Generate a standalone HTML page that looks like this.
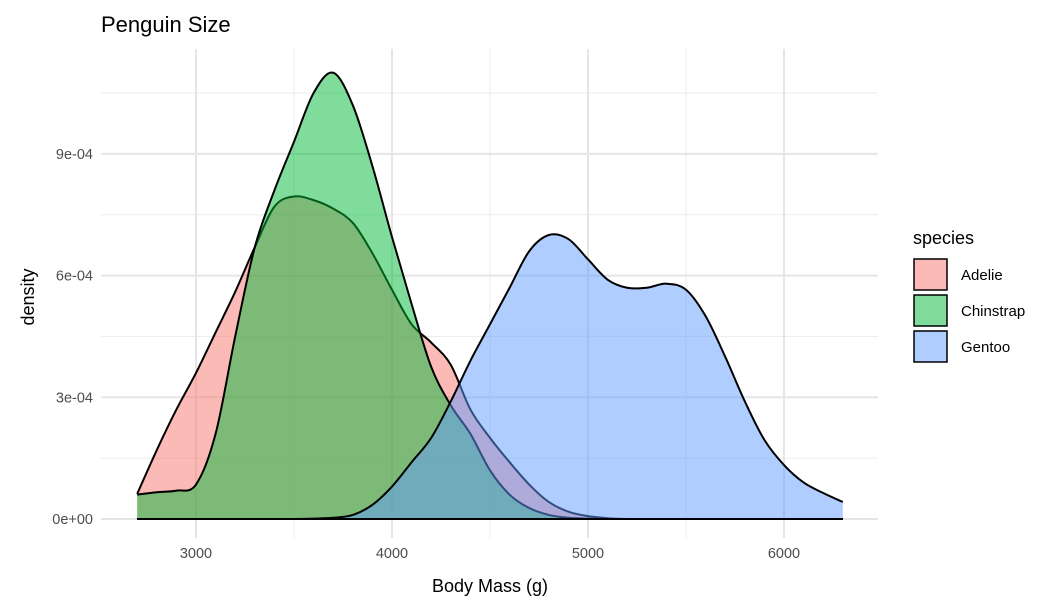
<!DOCTYPE html>
<html><head><meta charset="utf-8"><style>
body{margin:0;background:#fff;font-family:"Liberation Sans",Arial,sans-serif}
svg text{font-family:"Liberation Sans",Arial,sans-serif}
</style></head><body>
<svg id="chart" width="1064" height="608" viewBox="0 0 1064 608">
<text x="101" y="32" font-size="22" fill="#000">Penguin Size</text>
<g id="grid"></g>
<g id="areas"></g>
<g id="axes"></g>
<text x="490" y="592" font-size="18" text-anchor="middle" fill="#000">Body Mass (g)</text>
<text transform="translate(34,297) rotate(-90)" font-size="18" text-anchor="middle" fill="#000">density</text>
<g id="legend">
<text x="913" y="244" font-size="18" fill="#000">species</text>
</g>
</svg>
<script>
const xs = [2700,2800,2900,3000,3100,3200,3300,3400,3500,3600,3700,3800,3900,4000,4100,4200,4300,4400,4500,4600,4700,4800,4900,5000,5100,5200,5300,5400,5500,5600,5700,5800,5900,6000,6100,6200,6300];
const adelie = [0.62,1.7,2.7,3.6,4.6,5.6,6.7,7.7,7.95,7.86,7.65,7.3,6.55,5.65,4.8,4.35,3.8,2.7,2.0,1.4,0.85,0.42,0.18,0.07,0.02,0,0,0,0,0,0,0,0,0,0,0,0];
const chinstrap = [0.6,0.66,0.7,0.85,2.1,4.5,6.7,8.1,9.3,10.5,11.0,10.2,8.7,6.95,5.3,3.75,2.8,2.1,1.2,0.6,0.27,0.1,0.03,0.01,0,0,0,0,0,0,0,0,0,0,0,0,0];
const gentoo = [0,0,0,0,0,0,0,0,0,0.01,0.03,0.1,0.35,0.8,1.4,2.0,2.9,3.9,4.8,5.7,6.6,7.0,6.9,6.4,5.9,5.7,5.7,5.8,5.65,5.0,4.0,2.9,1.95,1.33,0.9,0.64,0.42];
const species = ["Adelie","Chinstrap","Gentoo"];
const colors = ["#F8766D","#00BA38","#619CFF"];
const xTicks = [3000,4000,5000,6000];
const yTicks = [0,3,6,9];
const yTickLabels = ["0e+00","3e-04","6e-04","9e-04"];

const X = v => 196 + (v-3000)*0.196;
const Y = v => 519 - v*40.57;
const NS = "http://www.w3.org/2000/svg";
function mk(tag, attrs, parent){const e=document.createElementNS(NS,tag);for(const k in attrs)e.setAttribute(k,attrs[k]);parent.appendChild(e);return e;}
const grid=document.getElementById('grid'), areas=document.getElementById('areas'), axes=document.getElementById('axes'), legend=document.getElementById('legend');
const L=101,R=878,T=49,B=538;
[2500,3500,4500,5500,6500].forEach(v=>{const x=X(v);if(x>L&&x<R){const l=mk('line',{x1:x,x2:x,y1:T,y2:B,stroke:'#ebebeb','stroke-width':1},grid);}});
[1.5,4.5,7.5,10.5].forEach(v=>{const l=mk('line',{x1:L,x2:R,y1:Y(v),y2:Y(v),stroke:'#ebebeb','stroke-width':1},grid);});
xTicks.forEach(v=>{const l=mk('line',{x1:X(v),x2:X(v),y1:T,y2:B,stroke:'#e5e5e5','stroke-width':2},grid);
 const t=mk('text',{x:X(v),y:558,'font-size':14.5,fill:'#4d4d4d','text-anchor':'middle'},axes);t.textContent=v;});
yTicks.forEach((v,i)=>{const l=mk('line',{x1:L,x2:R,y1:Y(v),y2:Y(v),stroke:'#e5e5e5','stroke-width':2},grid);
 const t=mk('text',{x:93,y:Y(v)+5,'font-size':14.5,fill:'#4d4d4d','text-anchor':'end'},axes);t.textContent=yTickLabels[i];});
function smooth(pts){let d='M'+pts[0][0]+','+pts[0][1];for(let i=0;i<pts.length-1;i++){const p0=pts[Math.max(0,i-1)],p1=pts[i],p2=pts[i+1],p3=pts[Math.min(pts.length-1,i+2)];
 const c1=[p1[0]+(p2[0]-p0[0])/6,p1[1]+(p2[1]-p0[1])/6],c2=[p2[0]-(p3[0]-p1[0])/6,p2[1]-(p3[1]-p1[1])/6];
 d+=` C${c1[0]},${c1[1]} ${c2[0]},${c2[1]} ${p2[0]},${p2[1]}`;}return d;}
[adelie,chinstrap,gentoo].forEach((ser,si)=>{
 const pts=xs.map((x,i)=>[X(x),Y(Math.max(0,ser[i]))]);
 const line=smooth(pts);
 const area=line+` L${X(xs[xs.length-1])},${Y(0)} L${X(xs[0])},${Y(0)} Z`;
 const a=mk('path',{d:area,fill:colors[si],'fill-opacity':0.5,stroke:'none'},areas);
 
 const p=mk('path',{d:line,fill:'none',stroke:'#000','stroke-width':2},areas);
 
 const b=mk('line',{x1:X(xs[0]),x2:X(xs[xs.length-1]),y1:Y(0),y2:Y(0),stroke:'#000','stroke-width':2},areas);
 
 const ly=259+si*36;
 const r=mk('rect',{x:914,y:ly,width:33,height:31,fill:colors[si],'fill-opacity':0.5,stroke:'#000','stroke-width':1.5},legend);
 
 const t=mk('text',{x:961,y:ly+21,'font-size':15,fill:'#000'},legend);t.textContent=species[si];
 
});
</script>
</body></html>
